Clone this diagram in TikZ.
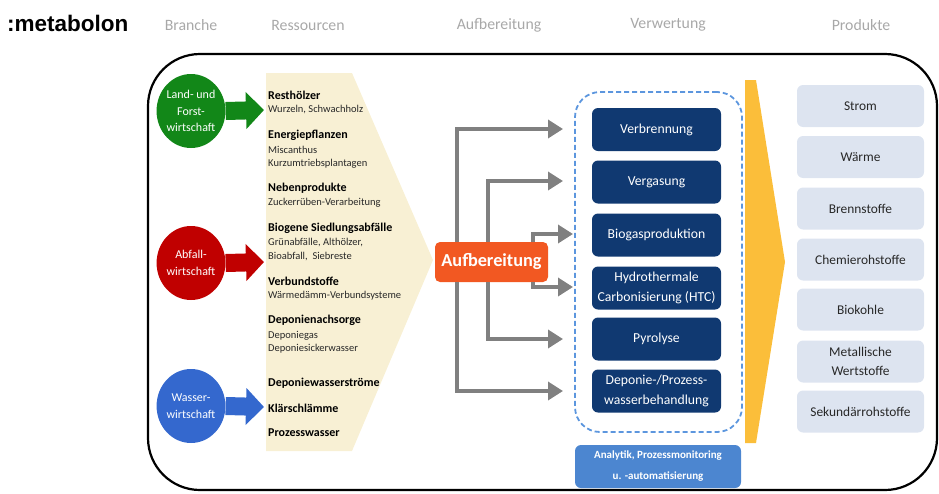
\documentclass[tikz,border=0pt]{standalone}
\usepackage{fontspec}
\setmainfont{Carlito}
\newfontfamily\arialf{Liberation Sans}
\usetikzlibrary{arrows.meta,shapes.geometric}
\definecolor{hgray}{RGB}{168,168,168}
\definecolor{cgreen}{RGB}{18,135,24}
\definecolor{cred}{RGB}{192,0,0}
\definecolor{cblue}{RGB}{52,104,206}
\definecolor{ccream}{RGB}{248,240,212}
\definecolor{corange}{RGB}{242,88,34}
\definecolor{cnavy}{RGB}{16,57,113}
\definecolor{cdash}{RGB}{92,150,222}
\definecolor{cana}{RGB}{76,134,208}
\definecolor{cyellow}{RGB}{251,190,58}
\definecolor{cprod}{RGB}{221,228,240}
\definecolor{carrow}{RGB}{128,128,128}
\definecolor{ctext}{RGB}{40,40,40}
\begin{document}
\begin{tikzpicture}[x=1pt,y=-1pt,
  header/.style={text=hgray, font=\fontsize{15.8}{18}\selectfont, inner sep=0},
  branch/.style={ellipse, minimum width=62pt, minimum height=74pt, inner sep=0, text=white, align=center, font=\fontsize{12}{16.5}\selectfont},
  blockarrow/.style={line width=18pt, -{Triangle[length=18pt 0, width=36pt 0]}},
  reshead/.style={anchor=west, inner sep=0, text=black, font=\bfseries\fontsize{12}{14}\selectfont},
  ressub/.style={anchor=west, inner sep=0, text=ctext, font=\fontsize{10.5}{12}\selectfont},
  process/.style={fill=cnavy, rounded corners=6pt, minimum width=129pt, minimum height=43pt, inner sep=0, text=white, align=center, font=\fontsize{13.7}{19.5}\selectfont},
  product/.style={fill=cprod, rounded corners=6pt, minimum width=127pt, minimum height=42pt, inner sep=0, text=ctext, align=center, font=\fontsize{13.4}{19}\selectfont},
  grayarrow/.style={draw=carrow, line width=3.5pt, -{Triangle[length=15pt 0, width=18pt 0]}}
]
\useasboundingbox (0,0) rectangle (939,493);
% title and headers
\node[anchor=west, inner sep=0, font=\arialf\bfseries\fontsize{22.5}{24}\selectfont] (title) at (7,23) {:metabolon};
\node[header] (h1) at (191,25) {Branche};
\node[header] (h2) at (308,25) {Ressourcen};
\node[header] (h3) at (499,25) {Aufbereitung};
\node[header] (h4) at (668,25) {Verwertung};
\node[header] (h5) at (861,25) {Produkte};
% frame
\draw[line width=2.2pt, rounded corners=52pt] (148,54) rectangle (937,490);
% cream resources shape
\fill[ccream] (266,73) -- (352,73) -- (433,260) -- (352,451) -- (266,451) -- cycle;
% yellow shape
\fill[cyellow] (745,80) -- (756,80) -- (785,262) -- (756,443) -- (745,443) -- cycle;
% branches
\node[branch, fill=cgreen] (green) at (191,111) {Land- und\\Forst-\\wirtschaft};
\node[branch, fill=cred] (red) at (191,263) {Abfall-\\wirtschaft};
\node[branch, fill=cblue] (blue) at (191,406) {Wasser-\\wirtschaft};
\coordinate (gt) at (264,110);
\coordinate (rt) at (264,262);
\coordinate (bt) at (264,407);
\draw[blockarrow, draw=cgreen] (green.east) -- (gt);
\draw[blockarrow, draw=cred] (red.east) -- (rt);
\draw[blockarrow, draw=cblue] (blue.east) -- (bt);
% resources text
\node[reshead] (r1) at (268,95) {Resthölzer};
\node[ressub] (r2) at (268,110) {Wurzeln, Schwachholz};
\node[reshead] (r3) at (268,135) {Energiepflanzen};
\node[ressub] (r4) at (268,150) {Miscanthus};
\node[ressub] (r5) at (268,164) {Kurzumtriebsplantagen};
\node[reshead] (r6) at (268,188) {Nebenprodukte};
\node[ressub] (r7) at (268,203) {Zuckerrüben-Verarbeitung};
\node[reshead] (r8) at (268,228) {Biogene Siedlungsabfälle};
\node[ressub] (r9) at (268,243) {Grünabfälle, Althölzer,};
\node[ressub] (r10) at (268,257) {Bioabfall,\ \ Siebreste};
\node[reshead] (r11) at (268,281) {Verbundstoffe};
\node[ressub] (r12) at (268,296) {Wärmedämm-Verbundsysteme};
\node[reshead] (r13) at (268,320) {Deponienachsorge};
\node[ressub] (r14) at (268,336) {Deponiegas};
\node[ressub] (r15) at (268,349) {Deponiesickerwasser};
\node[reshead] (r16) at (268,383) {Deponiewasserströme};
\node[reshead] (r17) at (268,408) {Klärschlämme};
\node[reshead] (r18) at (268,433) {Prozesswasser};
% Aufbereitung
\node[fill=corange, rounded corners=5pt, minimum width=113pt, minimum height=40pt, inner sep=0, text=white, font=\bfseries\fontsize{18.3}{20}\selectfont] (auf) at (491.5,262) {Aufbereitung};
% dashed container
\node[draw=cdash, dashed, dash pattern=on 5pt off 3pt, line width=1.8pt, rounded corners=25pt, minimum width=167pt, minimum height=340pt, inner sep=0] (verw) at (658.5,262) {};
% process boxes
\node[process] (p1) at (656.5,129.5) {Verbrennung};
\node[process] (p2) at (656.5,182) {Vergasung};
\node[process] (p3) at (656.5,235) {Biogasproduktion};
\node[process] (p4) at (656.5,288) {Hydrothermale\\Carbonisierung (HTC)};
\node[process] (p5) at (656.5,339) {Pyrolyse};
\node[process] (p6) at (656.5,391) {Deponie-/Prozess-\\wasserbehandlung};
% analytics
\node[fill=cana, rounded corners=6pt, minimum width=166pt, minimum height=43pt, inner sep=0, text=white, align=center, font=\bfseries\fontsize{11}{21}\selectfont] (ana) at (658,466.5) {Analytik, Prozessmonitoring\\u. -automatisierung};
% gray arrows
\coordinate (t1) at (563,129);
\coordinate (t2) at (563,181);
\coordinate (t3) at (573,234);
\coordinate (t4) at (573,287);
\coordinate (t5) at (563,339);
\coordinate (t6) at (563,391);
\draw[grayarrow] ([xshift=-34.5pt]auf.north) |- (t1);
\draw[grayarrow] ([xshift=-3.5pt]auf.north) |- (t2);
\draw[grayarrow] ([xshift=41.5pt]auf.north) |- (t3);
\draw[grayarrow] ([xshift=41.5pt]auf.south) |- (t4);
\draw[grayarrow] ([xshift=-3.5pt]auf.south) |- (t5);
\draw[grayarrow] ([xshift=-34.5pt]auf.south) |- (t6);
% products
\node[product] (s1) at (860.5,106) {Strom};
\node[product] (s2) at (860.5,157) {Wärme};
\node[product] (s3) at (860.5,208.5) {Brennstoffe};
\node[product] (s4) at (860.5,259.5) {Chemierohstoffe};
\node[product] (s5) at (860.5,309.5) {Biokohle};
\node[product] (s6) at (860.5,361.5) {Metallische\\Wertstoffe};
\node[product] (s7) at (860.5,411.5) {Sekundärrohstoffe};
\end{tikzpicture}
\end{document}
